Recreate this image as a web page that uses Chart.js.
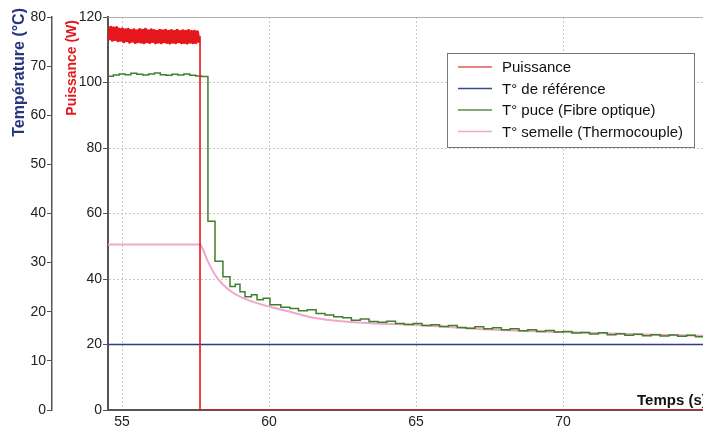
<!DOCTYPE html>
<html>
<head>
<meta charset="utf-8">
<script src="https://cdn.jsdelivr.net/npm/chart.js@4/dist/chart.umd.min.js"></script>
<style>
  html, body { margin: 0; padding: 0; background: #fff; }
  #wrap { width: 703px; height: 428px; }
</style>
</head>
<body>
<div id="wrap"><canvas id="myChart" width="703" height="428"></canvas></div>
<script>
// time range shown (s)
const tMin = 54.52;
const tMax = 74.76;
const timeTicks = [55, 60, 65, 70];

// Puissance (W): sampled every powerStep s from tMin while on, then cut off
const powerStep = 0.049;
const powerOn = [117.0, 113.4, 116.8, 113.0, 116.6, 113.2, 116.7, 112.8, 116.2, 113.0,
  116.3, 112.5, 116.0, 112.8, 116.2, 112.4, 115.8, 112.7, 116.0, 112.3,
  115.7, 112.5, 116.1, 112.4, 115.9, 112.2, 116.2, 112.5, 115.7, 112.3,
  116.0, 112.6, 115.8, 112.2, 115.6, 112.4, 115.9, 112.2, 115.7, 112.5,
  115.9, 112.3, 115.6, 112.1, 115.8, 112.4, 115.6, 112.2, 115.9, 112.5,
  115.5, 112.2, 115.7, 112.3, 115.6, 112.1, 115.8, 112.4, 115.5, 112.2,
  115.6, 112.3, 115.4, 112.2];
const powerOffT = [57.65, 57.65, 74.76];
const powerOffV = [114.0, 0, 0];

// T° de référence
const refT = [54.52, 74.76];
const refV = [20, 20];

// T° puce (Fibre optique)
const puceT = [54.52, 54.7, 54.9, 55.1, 55.3, 55.5, 55.7, 55.9, 56.1, 56.3, 56.5, 56.7, 56.9, 57.1, 57.3, 57.5, 57.7,
  57.92, 58.16, 58.43, 58.67, 58.85, 59.01, 59.18, 59.4, 59.59, 59.8,
  60.03, 60.4, 60.71, 61.0, 61.3, 61.6, 61.9, 62.2, 62.5, 62.8, 63.1, 63.4, 63.7, 64.0, 64.3, 64.6, 64.9,
  65.2, 65.5, 65.8, 66.1, 66.4, 66.7, 67.0, 67.3, 67.6, 67.9, 68.2, 68.5, 68.8, 69.1, 69.4, 69.7,
  70.0, 70.3, 70.6, 70.9, 71.2, 71.5, 71.8, 72.1, 72.4, 72.7, 73.0, 73.3, 73.6, 73.9, 74.2, 74.5, 74.76];
const puceV = [101.9, 102.3, 102.6, 102.4, 102.8, 102.5, 102.3, 102.6, 102.9, 102.4, 102.2, 102.5, 102.3, 102.6, 102.2, 102.0, 101.8,
  57.6, 45.4, 40.7, 37.7, 38.4, 36.1, 34.6, 35.2, 33.7, 34.1,
  32.1, 31.4, 31.0, 30.3, 30.6, 29.5, 29.0, 28.5, 28.2, 27.4, 27.8, 27.0, 26.8, 27.1, 26.4, 26.1, 26.4,
  25.8, 26.0, 25.5, 25.8, 25.2, 25.0, 25.4, 24.8, 25.1, 24.5, 24.8, 24.2, 24.5, 24.0, 24.3, 23.8,
  24.0, 23.5, 23.7, 23.2, 23.6, 23.0, 23.3, 22.8, 23.1, 22.7, 23.0, 22.6, 22.9, 22.5, 22.8, 22.4, 22.7];

// T° semelle (Thermocouple)
const semelleT = [54.52, 57.65, 57.75, 57.89, 58.16, 58.43, 58.77, 59.25, 60.03, 60.71, 61.5, 62.75, 65.13, 67.5, 70, 72.5, 74.76];
const semelleV = [50.5, 50.5, 49.0, 45.9, 41.3, 38.3, 35.8, 33.7, 31.5, 30.0, 28.2, 26.9, 25.9, 24.6, 23.8, 23.1, 22.7];

const labels = ['Puissance', 'T° de référence', 'T° puce (Fibre optique)', 'T° semelle (Thermocouple)'];
const colors = ['#e6161d', '#2b3a8c', '#3f7f2e', '#f2a6cc'];
const legendColors = ['#e05a55', '#3b4a8c', '#5a8f48', '#f0a8c8'];

const FONT = '"Liberation Sans", Arial, sans-serif';

function pts(ts, vs) {
  return ts.map((t, i) => ({ x: t, y: vs[i] }));
}

const powerData = powerOn.map((v, i) => ({ x: tMin + i * powerStep, y: v }))
  .concat(pts(powerOffT, powerOffV));

const overlay = {
  id: 'overlay',
  afterDraw(chart) {
    const ctx = chart.ctx;
    const a = chart.chartArea;
    ctx.save();
    // top border of the plot
    ctx.strokeStyle = '#b0b0b0';
    ctx.lineWidth = 1;
    ctx.beginPath();
    ctx.moveTo(a.left, a.top + 0.5);
    ctx.lineTo(a.right, a.top + 0.5);
    ctx.stroke();

    // axis titles
    ctx.textBaseline = 'middle';
    ctx.textAlign = 'right';
    ctx.save();
    ctx.translate(20, 8);
    ctx.rotate(-Math.PI / 2);
    ctx.font = 'bold 16px ' + FONT;
    ctx.fillStyle = '#27367f';
    ctx.fillText('Température (°C)', 0, 0);
    ctx.restore();
    ctx.save();
    ctx.translate(72, 20);
    ctx.rotate(-Math.PI / 2);
    ctx.font = 'bold 14px ' + FONT;
    ctx.fillStyle = '#e3191e';
    ctx.fillText('Puissance (W)', 0, 0);
    ctx.restore();

    ctx.textAlign = 'left';
    ctx.textBaseline = 'alphabetic';
    ctx.font = 'bold 15px ' + FONT;
    ctx.fillStyle = '#111';
    ctx.fillText('Temps (s)', 637, 405);

    // legend box
    const bx = 447, by = 53, bw = 247, bh = 94;
    ctx.fillStyle = '#fff';
    ctx.fillRect(bx, by, bw, bh);
    ctx.strokeStyle = '#777';
    ctx.lineWidth = 1;
    ctx.strokeRect(bx + 0.5, by + 0.5, bw, bh);
    ctx.font = '15px ' + FONT;
    ctx.textBaseline = 'middle';
    chart.data.datasets.forEach((ds, i) => {
      const y = 67 + i * 21.5;
      ctx.strokeStyle = legendColors[i];
      ctx.lineWidth = 1.5;
      ctx.beginPath();
      ctx.moveTo(458, y);
      ctx.lineTo(492, y);
      ctx.stroke();
      ctx.fillStyle = '#111';
      ctx.fillText(ds.label, 502, y + 1);
    });
    ctx.restore();
  }
};

const ctx = document.getElementById('myChart').getContext('2d');
const chart = new Chart(ctx, {
  type: 'line',
  data: {
    datasets: [{
      label: labels[0],
      data: powerData,
      borderColor: colors[0],
      borderWidth: 3.5,
      borderJoinStyle: 'round',
      yAxisID: 'y',
      segment: { borderWidth: (c) => (c.p0.parsed.x >= 57.6 ? 1.6 : undefined) }
    }, {
      label: labels[1],
      data: pts(refT, refV),
      borderColor: colors[1],
      borderWidth: 1.5,
      yAxisID: 'y'
    }, {
      label: labels[2],
      data: pts(puceT, puceV),
      borderColor: colors[2],
      borderWidth: 1.5,
      stepped: true,
      yAxisID: 'y'
    }, {
      label: labels[3],
      data: pts(semelleT, semelleV),
      borderColor: colors[3],
      borderWidth: 2,
      cubicInterpolationMode: 'monotone',
      yAxisID: 'y'
    }]
  },
  options: {
    responsive: false,
    animation: false,
    elements: { point: { radius: 0 } },
    layout: { padding: { top: 17, left: 0, right: 0, bottom: 0 } },
    plugins: {
      legend: { display: false },
      tooltip: { enabled: false }
    },
    scales: {
      x: {
        type: 'linear',
        min: tMin,
        max: tMax,
        z: 1,
        afterBuildTicks: (s) => { s.ticks = timeTicks.map(v => ({ value: v })); },
        afterFit: (s) => { s.height = 18; },
        grid: { color: '#c8c8c8', drawTicks: false },
        border: { color: '#555', width: 2, dash: [2, 2] },
        ticks: { padding: 4, color: '#222', font: { family: FONT, size: 14 } }
      },
      temp: {
        type: 'linear',
        position: 'left',
        weight: 2,
        min: 0,
        max: 80,
        afterFit: (s) => { s.width = 52; },
        grid: { drawOnChartArea: false, tickColor: '#555', tickLength: 5 },
        border: { color: '#555', width: 1.5 },
        ticks: { stepSize: 10, padding: 1, color: '#222', font: { family: FONT, size: 14 } }
      },
      y: {
        type: 'linear',
        position: 'left',
        weight: 1,
        min: 0,
        max: 120,
        afterFit: (s) => { s.width = 56; },
        grid: { color: '#c8c8c8', tickColor: '#555', tickLength: 5 },
        border: { color: '#555', width: 2, dash: [2, 2] },
        ticks: { stepSize: 20, padding: 1, color: '#222', font: { family: FONT, size: 14 } }
      }
    }
  },
  plugins: [overlay]
});
</script>
</body>
</html>
